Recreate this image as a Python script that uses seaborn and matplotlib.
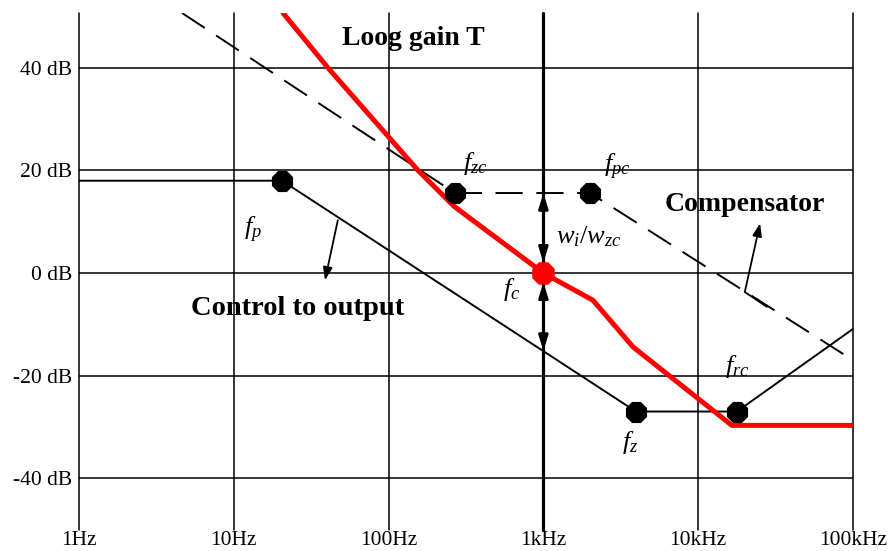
import numpy as np
import pandas as pd
import matplotlib
matplotlib.use("Agg")
import matplotlib.pyplot as plt
import seaborn as sns

# ---------------- data ----------------
# Control-to-output asymptotes
ctrl_f = [1, 20.5, 3960, 17800, 100000]
ctrl_db = [18.0, 18.0, -27.0, -27.0, -10.9]

# Compensator asymptotes (dashed)
comp_f = [4.63, 268, 2000, 88700]
comp_db = [50.7, 15.6, 15.6, -16.0]

# Loop gain T (red)
loop_f = [20.8, 40.6, 155, 265, 1000, 2090, 3790, 16500, 100000]
loop_db = [50.7, 40.0, 20.0, 13.0, 0.0, -5.3, -14.4, -29.7, -29.7]

# Corner points (black dots)
pts_f = [20.5, 268, 2000, 3960, 17800]
pts_db = [18.0, 15.6, 15.6, -27.0, -27.0]
pts_name = ["f_p", "f_zc", "f_pc", "f_z", "f_rc"]

# Crossover point (red dot)
fc_f = [1000]
fc_db = [0.0]

xtick_vals = [1, 10, 100, 1000, 10000, 100000]
xtick_labels = ["1Hz", "10Hz", "100Hz", "1kHz", "10kHz", "100kHz"]
ytick_vals = [40, 20, 0, -20, -40]
ytick_labels = ["40 dB", "20 dB", "0 dB", "-20 dB", "-40 dB"]

# ---------------- style ----------------
sns.set_style("white")
plt.rcParams["font.family"] = ["Liberation Serif", "DejaVu Serif"]
plt.rcParams["mathtext.fontset"] = "custom"
plt.rcParams["mathtext.rm"] = "Liberation Serif"
plt.rcParams["mathtext.it"] = "Liberation Serif:italic"
plt.rcParams["text.color"] = "black"
plt.rcParams["xtick.color"] = "black"
plt.rcParams["ytick.color"] = "black"
plt.rcParams["axes.labelcolor"] = "black"

fig = plt.figure(figsize=(8.95, 5.51), dpi=100)
ax = fig.add_axes([79 / 895, 1 - 530 / 551, (853 - 79) / 895, (530 - 13) / 551])
ax.set_xscale("log")
ax.set_xlim(1, 100000)
ax.set_ylim(-50.1, 50.7)
for s in ax.spines.values():
    s.set_visible(False)

# grid
for xv in xtick_vals:
    ax.axvline(xv, color="black", lw=2.3 if xv == 1000 else 1.1, clip_on=False, zorder=1)
for yv in ytick_vals:
    ax.axhline(yv, color="black", lw=1.1, zorder=1)

ctrl = pd.DataFrame({"f": ctrl_f, "db": ctrl_db})
comp = pd.DataFrame({"f": comp_f, "db": comp_db})
loop = pd.DataFrame({"f": loop_f, "db": loop_db})
pts = pd.DataFrame({"f": pts_f, "db": pts_db, "name": pts_name})
fc = pd.DataFrame({"f": fc_f, "db": fc_db})

sns.lineplot(data=ctrl, x="f", y="db", ax=ax, color="black", lw=1.4, sort=False,
             estimator=None, zorder=3)
sns.lineplot(data=comp, x="f", y="db", ax=ax, color="black", lw=1.4, sort=False,
             estimator=None, dashes=False, zorder=3)
ax.lines[-1].set_dashes([14, 7])
sns.lineplot(data=loop, x="f", y="db", ax=ax, color="#ff0000", lw=3.6, sort=False,
             estimator=None, zorder=4)
sns.scatterplot(data=pts, x="f", y="db", ax=ax, color="black", marker="8", s=230,
                edgecolor="black", zorder=5)
sns.scatterplot(data=fc, x="f", y="db", ax=ax, color="#ff0000", marker="8", s=260,
                edgecolor="#ff0000", zorder=6)

ax.set_xticks(xtick_vals)
ax.set_xticklabels(xtick_labels)
ax.set_yticks(ytick_vals)
ax.set_yticklabels(ytick_labels)
ax.minorticks_off()
ax.tick_params(axis="both", length=0, labelsize=15.5)
ax.tick_params(axis="x", pad=1)
ax.tick_params(axis="y", pad=5)
ax.set_xlabel("")
ax.set_ylabel("")

# arrows
ak = dict(arrowstyle="-|>,head_width=0.2,head_length=0.55", color="black", lw=1.3,
          mutation_scale=14, shrinkA=0, shrinkB=0)
ax.annotate("", xy=(38.8, -1.4), xytext=(47, 10.3), arrowprops=ak)
ax.plot([27800, 20000], [-6.6, -3.7], color="black", lw=1.3)
ax.annotate("", xy=(25100, 9.7), xytext=(20000, -3.7), arrowprops=ak)
ad = dict(arrowstyle="<|-|>,head_width=0.2,head_length=0.65", color="black", lw=2.0,
          mutation_scale=14, shrinkA=0, shrinkB=0)
ax.annotate("", xy=(1000, 15.6), xytext=(1000, 2.0), arrowprops=ad, zorder=5)
ax.annotate("", xy=(1000, -15.2), xytext=(1000, -1.8), arrowprops=ad, zorder=5)

# text
ax.text(144, 45.8, "Loog gain T", fontsize=20, fontweight="bold", ha="center", va="center")
ax.text(26, -7.0, "Control to output", fontsize=20.5, fontweight="bold", ha="center", va="center")
ax.text(20050, 13.3, "Compensator", fontsize=20, fontweight="bold", ha="center", va="center")
fs = 19
ax.text(13.3, 8.4, r"$f_p$", fontsize=fs, ha="center", va="center")
ax.text(361, 21.4, r"$f_{zc}$", fontsize=fs, ha="center", va="center")
ax.text(2990, 20.7, r"$f_{pc}$", fontsize=fs, ha="center", va="center")
ax.text(1970, 7.0, r"$w_i/w_{zc}$", fontsize=fs, ha="center", va="center")
ax.text(627, -3.3, r"$f_c$", fontsize=fs, ha="center", va="center")
ax.text(17800, -18.3, r"$f_{rc}$", fontsize=fs, ha="center", va="center")
ax.text(3630, -33.1, r"$f_z$", fontsize=fs, ha="center", va="center")

fig.savefig("out.png", dpi=100)
